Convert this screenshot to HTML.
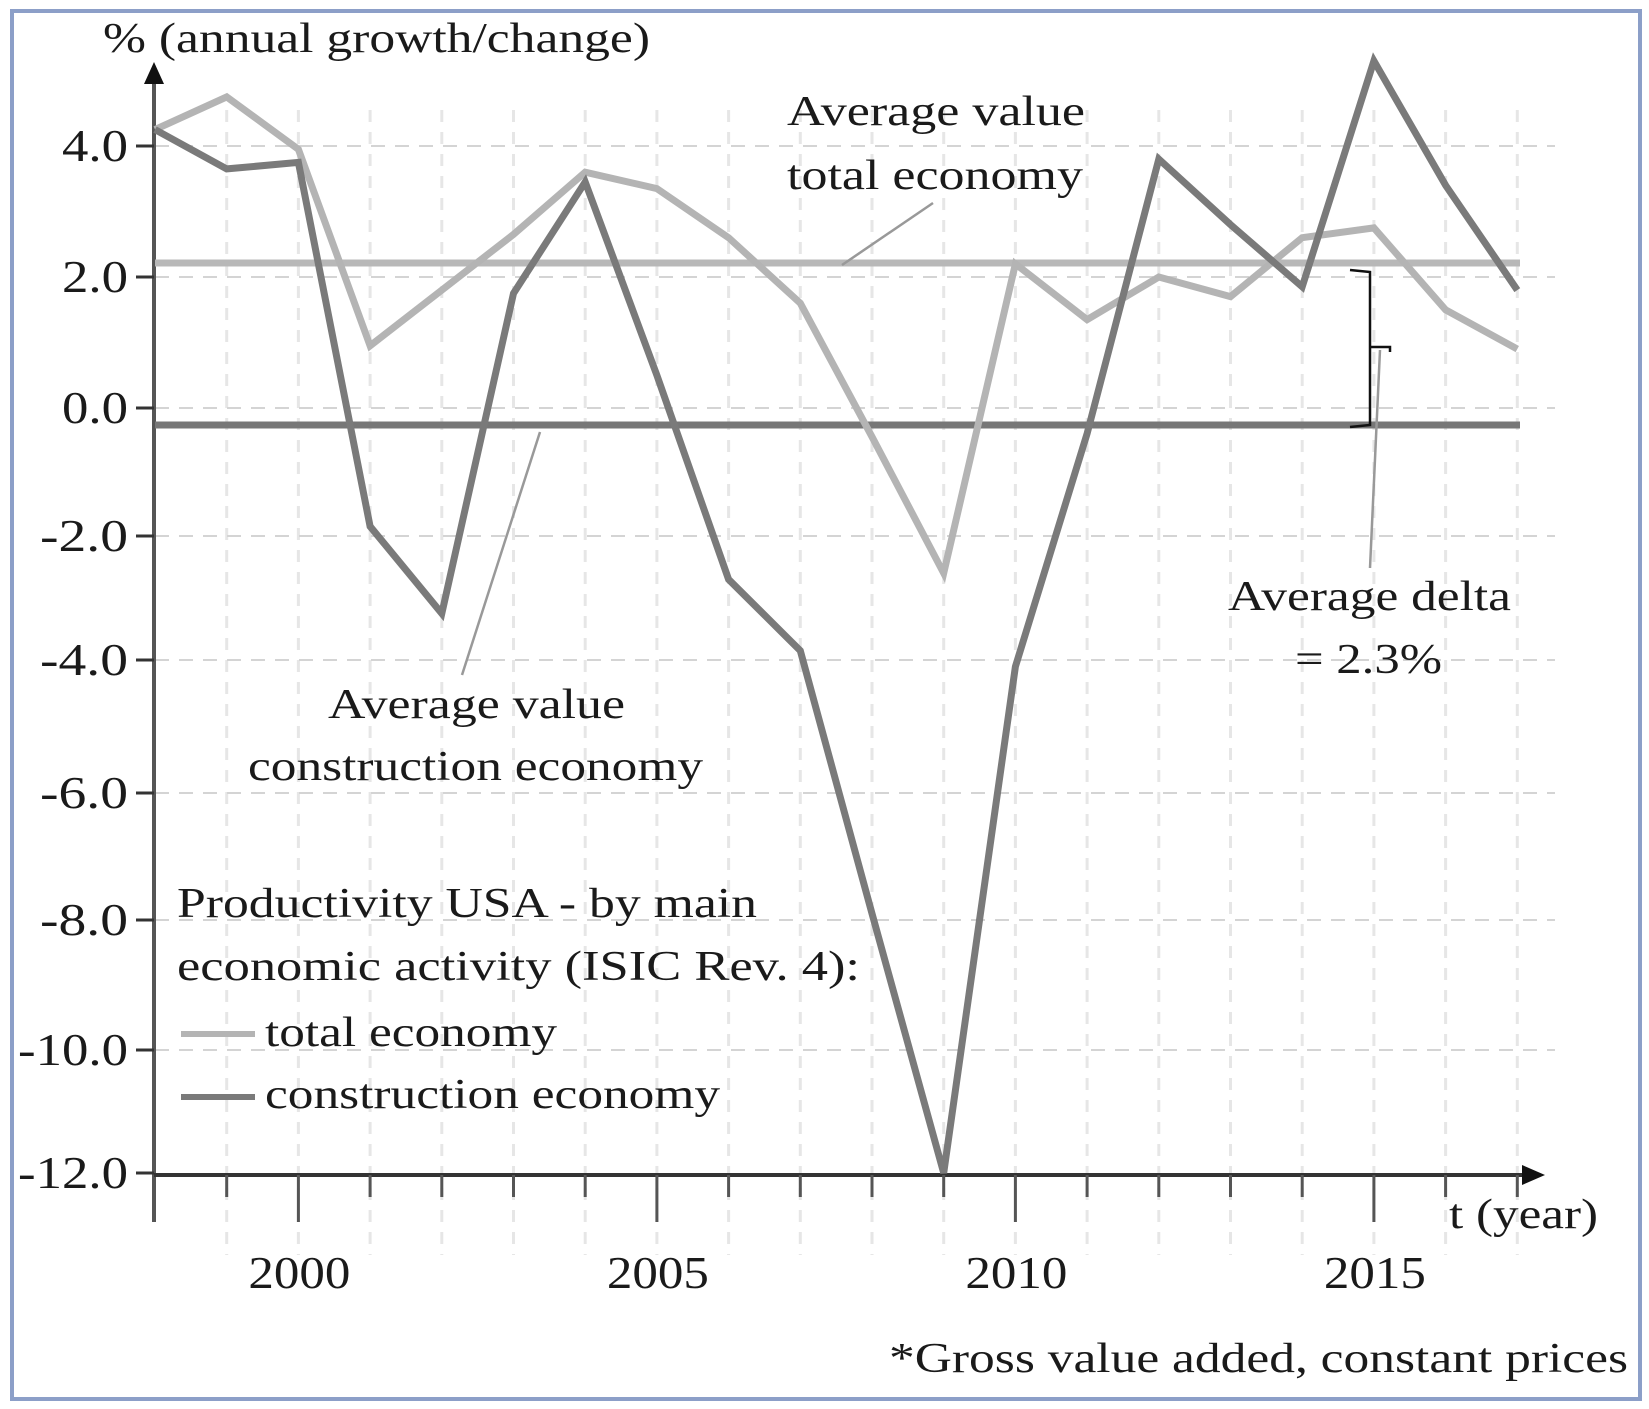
<!DOCTYPE html>
<html><head><meta charset="utf-8"><style>
html,body{margin:0;padding:0;background:#fff;}
svg{display:block;}
text{font-family:"Liberation Serif",serif;fill:#1a1a1a;}
</style></head><body>
<svg id="s" width="1649" height="1409" viewBox="0 0 1649 1409" xmlns="http://www.w3.org/2000/svg">
<rect x="12" y="11" width="1628" height="1388" fill="#fff" stroke="#8c9fc8" stroke-width="4"/>
<g id="grid"></g>
<g id="axes"></g>
<g id="series"></g>
<g font-size="42">
<text x="103" y="52" textLength="547" lengthAdjust="spacingAndGlyphs">% (annual growth/change)</text>
<text x="787" y="125" textLength="298" lengthAdjust="spacingAndGlyphs">Average value</text>
<text x="787" y="189" textLength="296" lengthAdjust="spacingAndGlyphs">total economy</text>
<text x="328" y="718" textLength="297" lengthAdjust="spacingAndGlyphs">Average value</text>
<text x="248" y="780" textLength="455" lengthAdjust="spacingAndGlyphs">construction economy</text>
<text x="1228" y="610" textLength="283" lengthAdjust="spacingAndGlyphs">Average delta</text>
<text x="1295" y="673" textLength="147" lengthAdjust="spacingAndGlyphs">= 2.3%</text>
<text x="177" y="917" textLength="580" lengthAdjust="spacingAndGlyphs">Productivity USA - by main</text>
<text x="177" y="980" textLength="683" lengthAdjust="spacingAndGlyphs">economic activity (ISIC Rev. 4):</text>
<text x="265" y="1046" textLength="292" lengthAdjust="spacingAndGlyphs">total economy</text>
<text x="265" y="1108" textLength="455" lengthAdjust="spacingAndGlyphs">construction economy</text>
<text x="1449" y="1228" textLength="149" lengthAdjust="spacingAndGlyphs">t (year)</text>
<text x="1628" y="1372" text-anchor="end" textLength="739" lengthAdjust="spacingAndGlyphs">*Gross value added, constant prices</text>
</g>
<g id="lbl" font-size="46"></g>
</svg>
<script>
var NS="http://www.w3.org/2000/svg";
function el(p,t,a,txt){var e=document.createElementNS(NS,t);for(var k in a)e.setAttribute(k,a[k]);if(txt!=null)e.textContent=txt;document.getElementById(p).appendChild(e);return e;}
var X0=155,DX=71.7;
function X(yr){return X0+(yr-1998)*DX;}
var tv=[4,2,0,-2,-4,-6,-8,-10,-12], ty=[146,277,408,536,660,793,920,1050,1173];
function Y(v){if(v>=4)return 146-(v-4)*65.5;for(var i=0;i<tv.length-1;i++){if(v<=tv[i]&&v>=tv[i+1]){return ty[i]+(tv[i]-v)/(tv[i]-tv[i+1])*(ty[i+1]-ty[i]);}}return 1173+(-12-v)*62;}
for(var yr=1999;yr<=2017;yr++){el("grid","line",{x1:X(yr),y1:110,x2:X(yr),y2:1255,stroke:"#e6e6e6","stroke-width":3,"stroke-dasharray":"12 10"});}
for(var i=0;i<tv.length-1;i++){el("grid","line",{x1:155,y1:ty[i],x2:1555,y2:ty[i],stroke:"#d4d4d4","stroke-width":2,"stroke-dasharray":"14 10"});}
el("axes","line",{x1:154,y1:1222,x2:154,y2:80,stroke:"#555","stroke-width":4});
el("axes","polygon",{points:"154,62 144,84 164,84",fill:"#111"});
el("axes","line",{x1:154,y1:1175,x2:1525,y2:1175,stroke:"#333","stroke-width":4});
el("axes","polygon",{points:"1545,1175 1522,1165 1522,1185",fill:"#111"});
for(var i=0;i<tv.length;i++){el("axes","line",{x1:136,y1:ty[i],x2:154,y2:ty[i],stroke:"#333","stroke-width":3});
var s=tv[i].toFixed(1);
el("lbl","text",{x:128,y:ty[i]+15,"text-anchor":"end",textLength:s.length*22,lengthAdjust:"spacingAndGlyphs"},s);}
for(var yr=1999;yr<=2017;yr++){var maj=(yr%5==0);el("axes","line",{x1:X(yr),y1:1175,x2:X(yr),y2:maj?1222:1197,stroke:"#555","stroke-width":3});
if(maj)el("lbl","text",{x:X(yr)-50,y:1288,textLength:102,lengthAdjust:"spacingAndGlyphs"},String(yr));}
var tot=[4.25,4.75,3.95,0.95,1.8,2.65,3.6,3.35,2.6,1.6,-0.45,-2.6,2.2,1.35,2.0,1.7,2.6,2.75,1.5,0.9];
var con=[4.25,3.65,3.75,-1.85,-3.25,1.75,3.45,0.5,-2.7,-3.85,-7.9,-12.0,-4.1,-0.4,3.8,2.8,1.85,5.3,3.4,1.8];
function pts(a){return a.map(function(v,i){return X(1998+i).toFixed(1)+","+Y(v).toFixed(1);}).join(" ");}
el("series","line",{x1:155,y1:263,x2:1520,y2:263,stroke:"#b8b8b8","stroke-width":7});
el("series","line",{x1:155,y1:425,x2:1520,y2:425,stroke:"#777","stroke-width":7});
el("series","polyline",{points:pts(tot),fill:"none",stroke:"#b4b4b4","stroke-width":7});
el("series","polyline",{points:pts(con),fill:"none",stroke:"#7a7a7a","stroke-width":7});
el("series","line",{x1:933,y1:203,x2:842,y2:265,stroke:"#999","stroke-width":2.5});
el("series","line",{x1:540,y1:432,x2:462,y2:675,stroke:"#999","stroke-width":2.5});
el("series","line",{x1:1380,y1:350,x2:1370,y2:568,stroke:"#999","stroke-width":2.5});
el("series","polyline",{points:"1350,270 1370,272 1370,425 1350,427",fill:"none",stroke:"#111","stroke-width":2.5});
el("series","polyline",{points:"1370,347 1390,347 1390,352",fill:"none",stroke:"#111","stroke-width":2.5});
el("series","line",{x1:181,y1:1034,x2:255,y2:1034,stroke:"#b4b4b4","stroke-width":6});
el("series","line",{x1:181,y1:1097,x2:255,y2:1097,stroke:"#7a7a7a","stroke-width":6});
</script>
</body></html>
